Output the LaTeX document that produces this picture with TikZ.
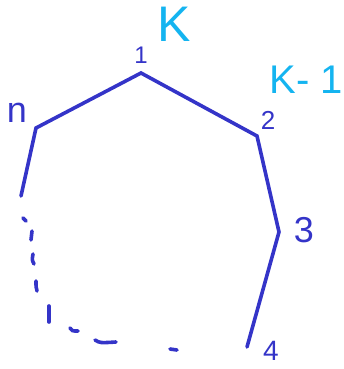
\documentclass[tikz,border=0pt]{standalone}
\usepackage{fontspec}
\setmainfont{Liberation Sans}
\definecolor{pen}{RGB}{52,52,200}
\definecolor{hl}{RGB}{20,180,240}
\tikzset{
  edge/.style={draw=pen, line width=3.6pt, line cap=round, line join=miter},
  dashbit/.style={draw=pen, line width=3.6pt, line cap=round},
  lbl/.style={text=pen, inner sep=0pt, font=\fontsize{30}{30}\selectfont},
  klbl/.style={text=hl, inner sep=0pt},
}
\begin{document}
\begin{tikzpicture}[x=1pt,y=-1pt]
\useasboundingbox (0,0) rectangle (343,369);
% vertices
\coordinate (e0) at (21,196);
\coordinate (vn) at (36,128);
\coordinate (v1) at (141,73);
\coordinate (v2) at (257,136);
\coordinate (v3) at (279,232);
\coordinate (v4) at (247,347);
\draw[edge] (e0) -- (vn) -- (v1) -- (v2) -- (v3) -- (v4);
% dashed part
\draw[dashbit] (23,218) -- (26,221);
\draw[dashbit] (32,231) -- (31,240);
\draw[dashbit] (33,254) .. controls (32,260) .. (34,264);
\draw[dashbit] (36,281) .. controls (36,287) .. (37,291);
\draw[dashbit] (49,306) -- (49,322);
\draw[dashbit] (70,328) .. controls (72,331) .. (78,331);
\draw[dashbit] (95,340) .. controls (100,343) .. (116,342);
\draw[dashbit] (170,349) -- (177,350);
% labels
\node[lbl, font=\fontsize{24}{24}\selectfont] (l1) at (141,55) {1};
\node[lbl, font=\fontsize{26}{26}\selectfont] (l2) at (268,120) {2};
\node[lbl, font=\fontsize{36}{36}\selectfont] (l3) at (304,230) {3};
\node[lbl, font=\fontsize{28}{28}\selectfont] (l4) at (271,351) {4};
\node[lbl, font=\fontsize{36}{36}\selectfont] (ln) at (17,113) {n};
\node[klbl, font=\fontsize{50}{50}\selectfont] (lk) at (174,24) {K};
\node[klbl, font=\fontsize{40}{40}\selectfont, anchor=east] (lk1) at (343,80) {K- 1};
\end{tikzpicture}
\end{document}
